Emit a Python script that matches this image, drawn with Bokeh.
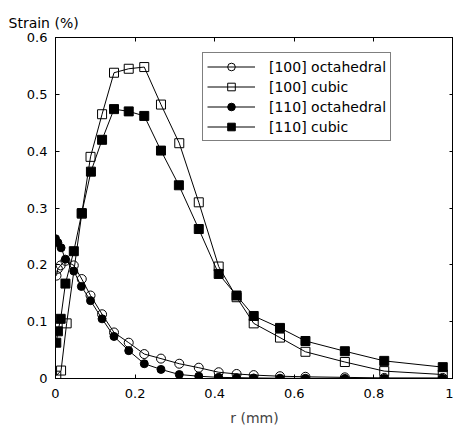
from bokeh.plotting import figure
from bokeh.models import (LinearAxis, FixedTicker, Legend, LegendItem, Range1d)
from bokeh.embed import file_html
from bokeh.resources import INLINE

# ---- data ----
r_100_oct = [0.0025, 0.006, 0.013, 0.025, 0.046, 0.066, 0.088, 0.117, 0.147, 0.184, 0.223,
             0.265, 0.311, 0.36, 0.41, 0.455, 0.498, 0.564, 0.628, 0.727, 0.826, 0.973]
s_100_oct = [0.181, 0.193, 0.199, 0.207, 0.199, 0.175, 0.146, 0.113, 0.081, 0.063, 0.043,
             0.035, 0.026, 0.019, 0.011, 0.008, 0.006, 0.004, 0.003, 0.002, 0.001, 0.001]

r_100_cub = [0.002, 0.014, 0.028, 0.066, 0.088, 0.117, 0.147, 0.184, 0.223, 0.265, 0.311,
             0.36, 0.41, 0.455, 0.498, 0.564, 0.628, 0.727, 0.826, 0.973]
s_100_cub = [0.005, 0.014, 0.097, 0.29, 0.39, 0.465, 0.538, 0.545, 0.548, 0.482, 0.414,
             0.31, 0.197, 0.143, 0.097, 0.072, 0.047, 0.029, 0.013, 0.007]

r_110_oct = [0.0, 0.006, 0.014, 0.025, 0.046, 0.065, 0.088, 0.117, 0.147, 0.184, 0.223,
             0.265, 0.311, 0.36, 0.41, 0.455, 0.498, 0.564, 0.628, 0.727, 0.826, 0.973]
s_110_oct = [0.246, 0.239, 0.230, 0.21, 0.189, 0.162, 0.137, 0.105, 0.074, 0.049, 0.026,
             0.016, 0.007, 0.004, 0.002, 0.0015, 0.001, 0.0005, 0.0003, 0.0002, 0.0001, 0.0]

r_110_cub = [0.002, 0.006, 0.013, 0.025, 0.046, 0.066, 0.089, 0.117, 0.147, 0.184, 0.223,
             0.265, 0.31, 0.36, 0.41, 0.455, 0.498, 0.564, 0.628, 0.727, 0.826, 0.973]
s_110_cub = [0.063, 0.083, 0.105, 0.167, 0.224, 0.291, 0.364, 0.420, 0.474, 0.470, 0.462,
             0.401, 0.34, 0.263, 0.184, 0.146, 0.110, 0.089, 0.066, 0.048, 0.031, 0.020]

x_ticks = [0, 0.2, 0.4, 0.6, 0.8, 1.0]
x_tick_labels = ["0", "0.2", "0.4", "0.6", "0.8", "1"]
y_ticks = [0, 0.1, 0.2, 0.3, 0.4, 0.5, 0.6]
y_tick_labels = ["0", "0.1", "0.2", "0.3", "0.4", "0.5", "0.6"]
x_min, x_max = 0, 1
y_min, y_max = 0, 0.6

series_names = ["[100] octahedral", "[100] cubic", "[110] octahedral", "[110] cubic"]
x_label = "r (mm)"
y_label = "Strain (%)"

FONT = "DejaVu Sans"

p = figure(frame_width=398, frame_height=341, output_backend="svg", toolbar_location=None,
           x_range=Range1d(x_min, x_max), y_range=Range1d(y_min, y_max),
           x_axis_location=None, y_axis_location=None,
           min_border_left=55, min_border_right=0, min_border_top=37, min_border_bottom=51)
p.grid.visible = False
p.outline_line_color = "black"
p.outline_line_width = 1
p.background_fill_color = "white"
p.border_fill_color = "white"

p.title.text = y_label
p.title.align = "left"
p.title.offset = -47
p.title.text_font = FONT
p.title.text_font_size = "14px"
p.title.text_font_style = "normal"
p.title.text_color = "black"
p.title.standoff = 14

def make_axis(ticks, labels, show_labels):
    ax = LinearAxis(ticker=FixedTicker(ticks=ticks))
    if show_labels:
        ax.major_label_overrides = {t: l for t, l in zip(ticks, labels)}
        ax.major_label_text_font_size = "13px"
    else:
        ax.major_label_overrides = {t: "" for t in ticks}
        ax.major_label_standoff = 0
        ax.major_label_text_font_size = "0px"
    ax.major_tick_in = 4
    ax.major_tick_out = 0
    ax.minor_tick_in = 0
    ax.minor_tick_out = 0
    ax.axis_line_color = "black"
    ax.major_tick_line_color = "black"
    ax.major_label_text_font = FONT
    ax.major_label_text_color = "black"
    return ax

xb = make_axis(x_ticks, x_tick_labels, True)
xb.major_label_standoff = 10
xb.axis_label = x_label
xb.axis_label_text_font = FONT
xb.axis_label_text_font_size = "14px"
xb.axis_label_text_font_style = "normal"
xb.axis_label_standoff = 9
p.add_layout(xb, "below")

yl = make_axis(y_ticks, y_tick_labels, True)
yl.major_label_standoff = 8
p.add_layout(yl, "left")

p.add_layout(make_axis(x_ticks, x_tick_labels, False), "above")
p.add_layout(make_axis(y_ticks, y_tick_labels, False), "right")

lw = 1
l1 = p.line(r_100_oct, s_100_oct, line_color="black", line_width=lw)
m1 = p.scatter(r_100_oct, s_100_oct, marker="circle", size=9, fill_color=None,
               line_color="black", line_width=1)
l2 = p.line(r_100_cub, s_100_cub, line_color="black", line_width=lw)
m2 = p.scatter(r_100_cub, s_100_cub, marker="square", size=9, fill_color=None,
               line_color="black", line_width=1)
l3 = p.line(r_110_oct, s_110_oct, line_color="black", line_width=lw)
m3 = p.scatter(r_110_oct, s_110_oct, marker="circle", size=8, fill_color="black",
               line_color="black", line_width=1)
l4 = p.line(r_110_cub, s_110_cub, line_color="black", line_width=lw)
m4 = p.scatter(r_110_cub, s_110_cub, marker="square", size=9, fill_color="black",
               line_color="black", line_width=1)

legend = Legend(items=[
    LegendItem(label=series_names[0], renderers=[l1, m1]),
    LegendItem(label=series_names[1], renderers=[l2, m2]),
    LegendItem(label=series_names[2], renderers=[l3, m3]),
    LegendItem(label=series_names[3], renderers=[l4, m4]),
], location=(147, 237))
legend.padding = 4
legend.spacing = 1
legend.margin = 0
legend.glyph_width = 48
legend.glyph_height = 19
legend.label_height = 19
legend.label_standoff = 14
legend.label_text_font = FONT
legend.label_text_font_size = "14px"
legend.label_text_color = "black"
legend.border_line_color = "black"
legend.border_line_width = 1
legend.background_fill_color = "white"
legend.background_fill_alpha = 1
p.add_layout(legend, "center")

open("out.html", "w").write(file_html(p, INLINE))
